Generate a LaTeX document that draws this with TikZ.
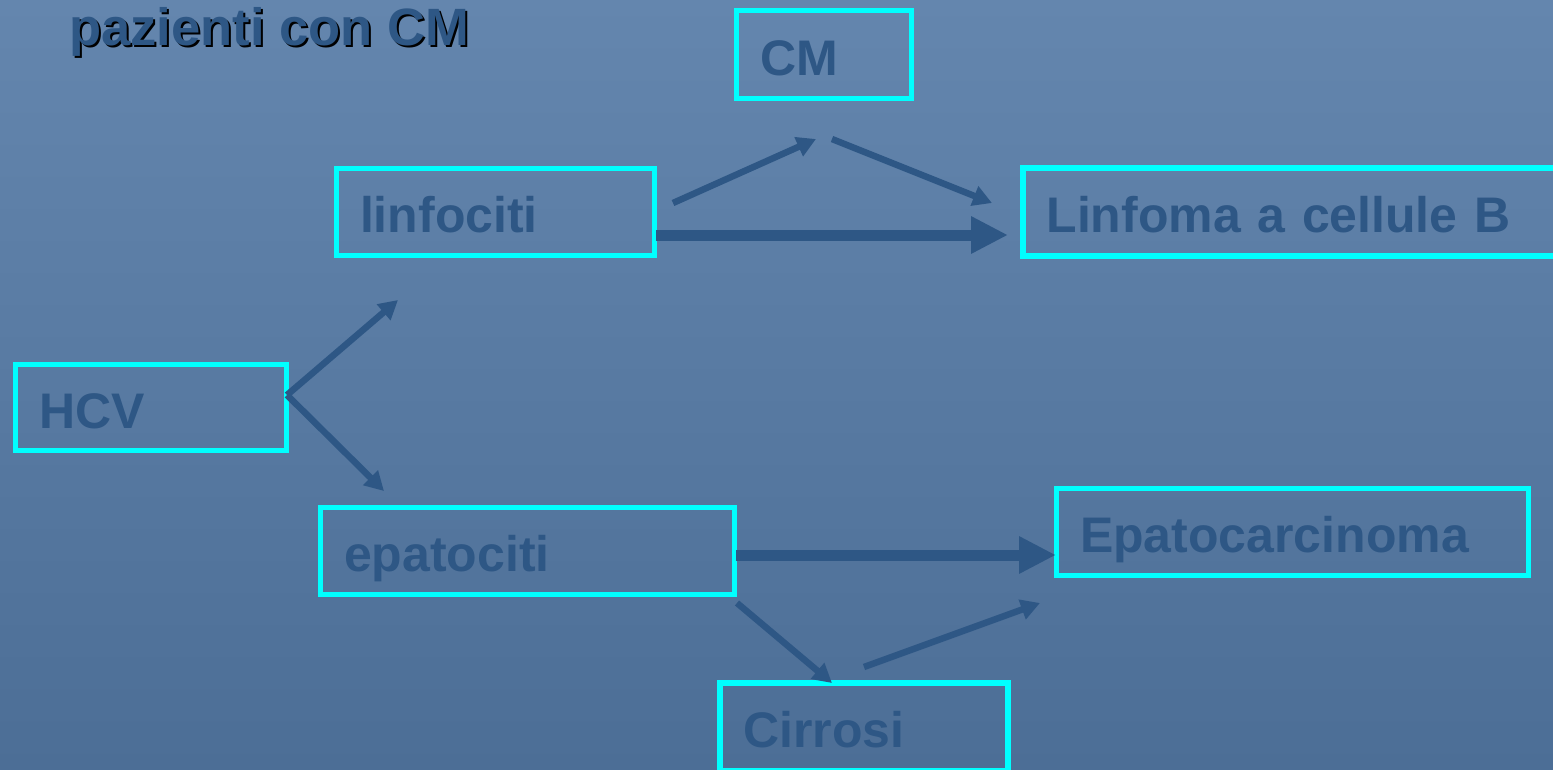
\documentclass[tikz,border=0pt]{standalone}
\usepackage{fontspec}
\setmainfont{Liberation Sans}
\usetikzlibrary{arrows.meta}
\definecolor{txtblue}{RGB}{46,87,133}
\definecolor{bgtop}{RGB}{100,134,174}
\definecolor{bgbot}{RGB}{76,110,150}
\definecolor{boxcyan}{RGB}{0,255,255}
\begin{document}
\begin{tikzpicture}[x=0.02cm,y=-0.02cm,
  bigfont/.style={font=\fontsize{28.45pt}{34pt}\selectfont\bfseries},
  titlefont/.style={font=\fontsize{29.9pt}{36pt}\selectfont\bfseries},
  framebox/.style={draw=boxcyan, line width=0.11cm, rectangle, bigfont, text=txtblue,
    inner xsep=0.47cm, inner ysep=0pt, text height=0.82cm, text depth=0cm, align=left},
  thinarrow/.style={draw=txtblue, line width=0.13cm, -{Triangle[length=0.38cm,width=0.40cm]}},
  thickarrow/.style={draw=txtblue, line width=0.22cm, -{Triangle[length=0.74cm,width=0.70cm]}}
]
\useasboundingbox (0,0) rectangle (1553,769);
\shade[top color=bgtop, bottom color=bgbot] (0,0) rectangle (1553,769);
\begin{scope}
\clip (0,0) rectangle (1553,769);
% title
\node[titlefont, text=black, anchor=base west] (titleshadow) at (65,47) {pazienti con CM};
\node[titlefont, text=txtblue, anchor=base west] (title) at (63,45) {pazienti con CM};
% boxes
\node[framebox, minimum width=3.5cm, minimum height=1.76cm, text width=2.56cm] (cm) at (824,54.5) {CM};
\node[framebox, minimum width=6.36cm, minimum height=1.74cm, text width=5.42cm] (linf) at (495.5,212) {linfociti};
\node[framebox, minimum width=10.74cm, minimum height=1.76cm, text width=9.8cm] (linfoma) at (1291.5,212) {Linfoma a cellule B};
\node[framebox, minimum width=5.42cm, minimum height=1.72cm, text width=4.48cm] (hcv) at (151,407.5) {HCV};
\node[framebox, minimum width=8.28cm, minimum height=1.74cm, text width=7.34cm] (epa) at (527.5,551) {epatociti};
\node[framebox, minimum width=9.44cm, minimum height=1.74cm, text width=8.5cm] (epc) at (1292.5,532) {Epatocarcinoma};
\node[framebox, minimum width=5.76cm, minimum height=1.76cm, text width=4.82cm] (cirr) at (864,727) {Cirrosi};
% arrow end points
\coordinate (h0) at (287,395);
\coordinate (h1) at (398,300);
\coordinate (h2) at (384,491);
\coordinate (l0) at (673,203);
\coordinate (l1) at (816,139);
\coordinate (c0) at (832,139);
\coordinate (c1) at (992,203);
\coordinate (t0) at (656,235);
\coordinate (t1) at (1008,235);
\coordinate (e0) at (736,555);
\coordinate (e1) at (1056,555);
\coordinate (p0) at (737,603);
\coordinate (p1) at (832,683);
\coordinate (r0) at (864,667);
\coordinate (r1) at (1040,603);
% arrows
\draw[thinarrow] (h0) -- (h1);
\draw[thinarrow] (h0) -- (h2);
\draw[thinarrow] (l0) -- (l1);
\draw[thinarrow] (c0) -- (c1);
\draw[thickarrow] (t0) -- (t1);
\draw[thickarrow] (e0) -- (e1);
\draw[thinarrow] (p0) -- (p1);
\draw[thinarrow] (r0) -- (r1);
\end{scope}
\end{tikzpicture}
\end{document}
